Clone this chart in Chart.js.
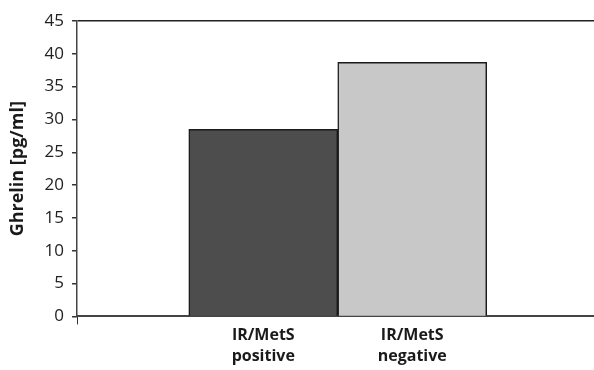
<!DOCTYPE html>
<html lang="en">
<head>
    <meta charset="UTF-8">
    <title>Ghrelin by IR/MetS status</title>
    <style>
        body { margin: 0; background: #fff; }
        #chart-container { width: 594px; height: 370px; }
    </style>
</head>
<body>
    <div id="chart-container">
        <canvas id="chart"></canvas>
    </div>
    <script src="https://cdn.jsdelivr.net/npm/chart.js@4/dist/chart.umd.min.js"></script>
    <script>
        const categories = [['IR/MetS', 'positive'], ['IR/MetS', 'negative']];
        const ghrelin = [28.5, 38.7];
        const barColors = ['#4d4d4d', '#c8c8c8'];
        const yTicks = [0, 5, 10, 15, 20, 25, 30, 35, 40, 45];

        // bars sit on a linear x scale so they can touch and leave room on both sides
        const xMin = -0.25, xMax = 3.22;
        const points = ghrelin.map((v, i) => ({ x: i + 1, y: v }));

        const ctx = document.getElementById('chart').getContext('2d');
        new Chart(ctx, {
            type: 'bar',
            data: {
                datasets: [{
                    data: points,
                    backgroundColor: barColors,
                    borderColor: '#1a1a1a',
                    borderWidth: 1.5,
                    barPercentage: 1,
                    categoryPercentage: 1
                }]
            },
            options: {
                responsive: true,
                maintainAspectRatio: false,
                animation: false,
                layout: { padding: { top: 21, right: 0, bottom: 2, left: 7 } },
                plugins: { legend: { display: false }, tooltip: { enabled: false } },
                scales: {
                    x: {
                        type: 'linear',
                        min: xMin,
                        max: xMax,
                        offset: false,
                        afterBuildTicks: axis => {
                            axis.ticks = [{ value: xMin }].concat(categories.map((c, i) => ({ value: i + 1 })));
                        },
                        // let the plot run to the right edge of the canvas
                        afterFit: axis => { axis.paddingRight = 0; },
                        ticks: {
                            autoSkip: false,
                            maxRotation: 0,
                            color: '#1a1a1a',
                            padding: 1,
                            font: { family: 'Open Sans', size: 16, weight: 'bold', lineHeight: 1.3 },
                            callback: value => value === xMin ? '' : categories[value - 1]
                        },
                        grid: {
                            offset: false,
                            color: 'transparent',
                            tickColor: c => c.tick && c.tick.value === xMin ? '#333' : 'transparent',
                            tickLength: 8
                        },
                        border: { display: true, color: '#444', width: 2 }
                    },
                    y: {
                        min: 0,
                        max: 45,
                        afterBuildTicks: axis => {
                            axis.ticks = yTicks.map(v => ({ value: v }));
                        },
                        ticks: {
                            color: '#222',
                            padding: 8,
                            font: { family: 'Open Sans', size: 17 }
                        },
                        grid: {
                            color: c => c.tick && c.tick.value === 45 ? '#222' : 'transparent',
                            lineWidth: 1.5,
                            tickColor: '#333',
                            tickLength: 5
                        },
                        border: { display: true, color: '#444', width: 1.5 },
                        title: {
                            display: true,
                            text: 'Ghrelin [pg/ml]',
                            color: '#1a1a1a',
                            font: { family: 'Open Sans', size: 18, weight: 'bold' },
                            padding: { top: 0, bottom: 8 }
                        }
                    }
                }
            }
        });
    </script>
</body>
</html>
